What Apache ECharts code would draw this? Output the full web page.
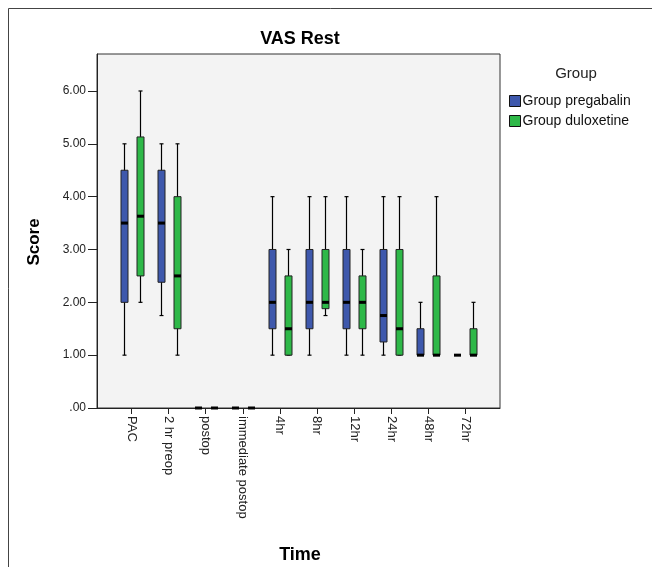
<!DOCTYPE html>
<html>
<head>
<meta charset="utf-8">
<script src="https://cdn.jsdelivr.net/npm/echarts@6/dist/echarts.min.js"></script>
<style>
  html, body { margin: 0; padding: 0; background: #fff; }
  #main { width: 652px; height: 567px; }
</style>
</head>
<body>
<div id="main"></div>
<script>
// categories on the x axis
var times = ['PAC', '2 hr preop', 'postop', 'immediate postop', '4hr', '8hr', '12hr', '24hr', '48hr', '72hr'];
var yTicks = [0, 1, 2, 3, 4, 5, 6];

// [min, Q1, median, Q3, max] per time point
var pregabalin = [
  [1, 2, 3.5, 4.5, 5],
  [1.75, 2.38, 3.5, 4.5, 5],
  [0, 0, 0, 0, 0],
  [0, 0, 0, 0, 0],
  [1, 1.5, 2, 3, 4],
  [1, 1.5, 2, 3, 4],
  [1, 1.5, 2, 3, 4],
  [1, 1.25, 1.75, 3, 4],
  [1, 1, 1, 1.5, 2],
  [1, 1, 1, 1, 1]
];
var duloxetine = [
  [2, 2.5, 3.63, 5.13, 6],
  [1, 1.5, 2.5, 4, 5],
  [0, 0, 0, 0, 0],
  [0, 0, 0, 0, 0],
  [1, 1, 1.5, 2.5, 3],
  [1.75, 1.88, 2, 3, 4],
  [1, 1.5, 2, 2.5, 3],
  [1, 1, 1.5, 3, 4],
  [1, 1, 1, 2.5, 4],
  [1, 1, 1, 1.5, 2]
];

var FONT = 'Liberation Sans, Arial, sans-serif';

function withIndex(arr) {
  return arr.map(function (d, i) { return [i].concat(d); });
}

// draws one box: whisker, caps, box, median mark
function boxRenderer(offset, fill) {
  return function (params, api) {
    var x = api.value(0);
    var lo = api.coord([x, api.value(1)]);
    var q1 = api.coord([x, api.value(2)]);
    var md = api.coord([x, api.value(3)]);
    var q3 = api.coord([x, api.value(4)]);
    var hi = api.coord([x, api.value(5)]);
    var cx = Math.round(lo[0] + offset) + 0.5;
    var w = 7;
    var lineStyle = { stroke: '#000', lineWidth: 1.2 };
    return {
      type: 'group',
      children: [
        { type: 'line', shape: { x1: cx, y1: hi[1], x2: cx, y2: lo[1] }, style: lineStyle },
        { type: 'line', shape: { x1: cx - 2, y1: hi[1], x2: cx + 2, y2: hi[1] }, style: lineStyle },
        { type: 'line', shape: { x1: cx - 2, y1: lo[1], x2: cx + 2, y2: lo[1] }, style: lineStyle },
        { type: 'rect', shape: { x: cx - w / 2, y: q3[1], width: w, height: q1[1] - q3[1] },
          style: { fill: fill, stroke: '#222', lineWidth: 1 } },
        { type: 'rect', shape: { x: cx - w / 2, y: md[1] - 1.5, width: w, height: 3 }, style: { fill: '#000' } }
      ]
    };
  };
}

var chart = echarts.init(document.getElementById('main'));
var option = {
  backgroundColor: '#fff',
  animation: false,
  grid: {
    left: 97, top: 54, width: 403, height: 354,
    show: true, backgroundColor: '#f3f3f3', borderColor: '#333', borderWidth: 1
  },
  legend: {
    orient: 'vertical', left: 504, top: 89,
    itemWidth: 11, itemHeight: 11, itemGap: 6,
    icon: 'rect',
    textStyle: { fontFamily: FONT, fontSize: 14, color: '#111', padding: [0, 0, 0, -3] },
    itemStyle: { borderColor: '#111', borderWidth: 1 },
    data: ['Group pregabalin', 'Group duloxetine']
  },
  xAxis: {
    type: 'value', min: -0.93, max: 9.93,
    splitLine: { show: false },
    axisLine: { onZero: false, lineStyle: { color: '#222' } },
    axisTick: { customValues: times.map(function (t, i) { return i; }), length: 6, lineStyle: { color: '#222' } },
    axisLabel: {
      customValues: times.map(function (t, i) { return i; }),
      rotate: -90, margin: 8, fontFamily: FONT, fontSize: 13, color: '#222',
      formatter: function (v) { return times[Math.round(v)]; }
    }
  },
  yAxis: {
    type: 'value', min: 0, max: 6.7,
    splitLine: { show: false },
    axisLine: { show: true, onZero: false, lineStyle: { color: '#222' } },
    axisTick: { show: true, customValues: yTicks, length: 9, lineStyle: { color: '#222' } },
    axisLabel: {
      customValues: yTicks, margin: 11, fontFamily: FONT, fontSize: 12, color: '#222',
      formatter: function (v) { return v === 0 ? '.00' : v.toFixed(2); }
    }
  },
  graphic: [
    { type: 'rect', shape: { x: 8.5, y: 8.5, width: 700, height: 600 },
      style: { fill: 'none', stroke: '#444', lineWidth: 1 }, silent: true, z: -1 },
    { type: 'text', x: 300, y: 39, style: { text: 'VAS Rest', fontFamily: FONT, fontSize: 18, fontWeight: 'bold',
      fill: '#000', align: 'center', verticalAlign: 'middle' } },
    { type: 'text', x: 300, y: 555, style: { text: 'Time', fontFamily: FONT, fontSize: 18, fontWeight: 'bold',
      fill: '#000', align: 'center', verticalAlign: 'middle' } },
    { type: 'text', x: 34, y: 242, rotation: Math.PI / 2, style: { text: 'Score', fontFamily: FONT, fontSize: 17,
      fontWeight: 'bold', fill: '#000', align: 'center', verticalAlign: 'middle' } },
    { type: 'text', x: 576, y: 74, style: { text: 'Group', fontFamily: FONT, fontSize: 15,
      fill: '#222', align: 'center', verticalAlign: 'middle' } }
  ],
  series: [
    {
      name: 'Group pregabalin', type: 'custom', clip: false,
      itemStyle: { color: '#3e58ac' },
      encode: { x: 0, y: [1, 2, 3, 4, 5] },
      renderItem: boxRenderer(-8, '#3e58ac'),
      data: withIndex(pregabalin)
    },
    {
      name: 'Group duloxetine', type: 'custom', clip: false,
      itemStyle: { color: '#2eb848' },
      encode: { x: 0, y: [1, 2, 3, 4, 5] },
      renderItem: boxRenderer(8, '#2eb848'),
      data: withIndex(duloxetine)
    }
  ]
};
chart.setOption(option);
</script>
</body>
</html>
